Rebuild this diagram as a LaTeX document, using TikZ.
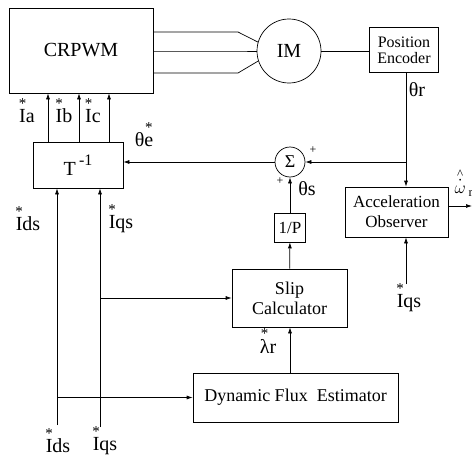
\documentclass[tikz,border=0pt]{standalone}
\usepackage{amsmath}
\usepackage{fontspec}
\setmainfont{Liberation Serif}
\usetikzlibrary{arrows.meta}
\newcommand{\fsz}[2]{\fontsize{#1}{#2}\selectfont}
\newcommand{\sov}[1]{\ooalign{#1\cr\hidewidth\raisebox{0.72em}{\fsz{15}{15}*}\hidewidth\cr}}
\newcommand{\wdot}{\ooalign{$\omega$\cr\hidewidth\raisebox{0.5em}{$\cdot$}\hidewidth\cr\hidewidth\raisebox{0.85em}{\fsz{13}{13}\^{}}\hidewidth\cr}}

\begin{document}
\begin{tikzpicture}[x=1pt, y=-1pt, line width=0.7pt, >={Latex[length=6pt,width=4pt]}]
  \useasboundingbox (0,0) rectangle (472,463);
  \tikzset{blk/.style={draw, inner sep=1pt, align=center}}
  \node[blk, minimum width=144pt, minimum height=85pt, font=\fsz{20}{22}] (crpwm) at (81,50.5) {CRPWM};
  \node[draw, circle, minimum size=64pt, inner sep=0pt, font=\fsz{20}{22}] (im) at (289,51) {IM};
  \node[blk, minimum width=69pt, minimum height=45pt, font=\fsz{16}{16}] (enc) at (404,50) {Position\\Encoder};
  \node[blk, minimum width=90pt, minimum height=46pt, font=\fsz{20}{22}] (tinv) at (78,165) {T\,\raisebox{0.5em}{\fsz{16}{16}-1}};
  \node[draw, circle, minimum size=30pt, inner sep=0pt, font=\fsz{18}{18}] (sum) at (290,162) {Σ};
  \node[blk, minimum width=31pt, minimum height=29pt, font=\fsz{17}{17}] (onep) at (290,227.5) {1/P};
  \node[blk, minimum width=103pt, minimum height=50pt, font=\fsz{17}{20}] (acc) at (396.5,212) {Acceleration\\Observer};
  \node[blk, minimum width=115pt, minimum height=58pt, font=\fsz{18}{20}] (slip) at (289.5,298) {Slip\\Calculator};
  \node[blk, minimum width=205pt, minimum height=49pt, font=\fsz{18}{20}] (dfe) at (295.5,397.5) {Dynamic Flux~~Estimator};

  \coordinate (tap) at (406,162);
  \coordinate (ids) at (57,425);
  \coordinate (iqs) at (100,427);
  \coordinate (iqa) at (406,284);
  \coordinate (out) at (472,206);

  \foreach \yy/\aa in {32/164, 51/180, 73/198} { \draw (crpwm.east |- 0,\yy) -- (238,\yy) -- (im.\aa); }
  \draw (im.east) -- (enc.west |- im.east);
  \draw[->] (enc.south -| tap) -- (acc.north -| tap);
  \draw[->] (tap) -- (sum.east);
  \draw[->] (sum.west) -- (tinv.east |- sum.west);
  \draw[->] (onep) -- (sum);
  \draw[->] (slip) -- (onep);
  \draw[->] (dfe.north -| onep) -- (slip.south -| onep);
  \foreach \xx in {48, 79, 109} { \draw[->] (tinv.north -| \xx,0) -- (crpwm.south -| \xx,0); }
  \draw[->] (ids) -- (tinv.south -| ids);
  \draw[->] (iqs) -- (tinv.south -| iqs);
  \draw[->] (iqs |- slip.west) -- (slip.west);
  \draw[->] (ids |- dfe.west) -- (dfe.west);
  \draw[->] (iqa) -- (acc.south -| iqa);
  \draw[->] (acc.east |- out) -- (out);

  \begin{scope}[font=\fsz{20}{22}, inner sep=0pt]
    \node (lia) at (27,116) {\sov{I}a};
    \node (lib) at (64,116) {\sov{I}b};
    \node (lic) at (93,116) {\sov{I}c};
    \node (lte) at (144,140) {θ\sov{e}};
    \node (lds) at (28,224) {\sov{I}ds};
    \node (lqs) at (121,224) {\sov{I}qs};
    \node (lds2) at (58,446) {\sov{I}ds};
    \node (lqs2) at (105,446) {\sov{I}qs};
    \node (lqa) at (409,303) {\sov{I}qs};
    \node (llr) at (268,346) {\sov{λ}r};
    \node (ltr) at (417,90) {θr};
    \node (lts) at (307,189) {θs};
  \end{scope}
  \node[font=\fsz{18}{18}, inner sep=0pt] (lw) at (464,191) {\wdot\,$_{\mathrm{r}}$};
  \node[font=\fsz{12}{12}, inner sep=0pt] (pa) at (313,150) {+};
  \node[font=\fsz{12}{12}, inner sep=0pt] (pb) at (280,181) {+};
\end{tikzpicture}
\end{document}
